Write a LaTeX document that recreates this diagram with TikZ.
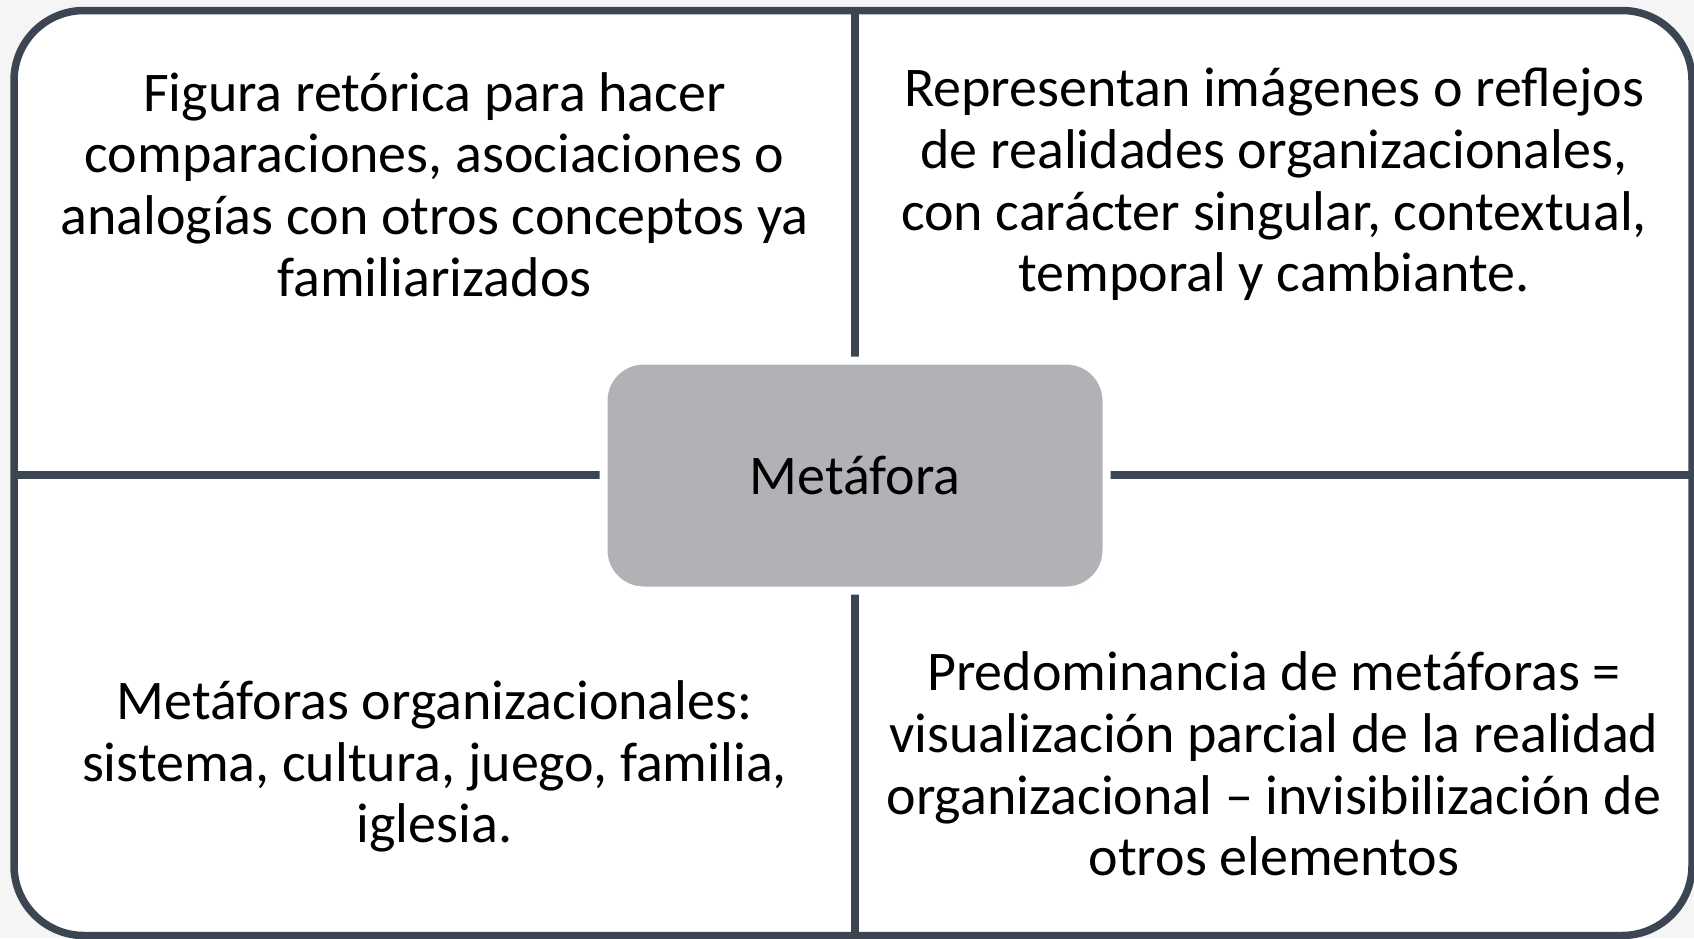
\documentclass[tikz,border=0pt]{standalone}
\usepackage{fontspec}
\setmainfont{Carlito}
\usetikzlibrary{shadows,calc}
\definecolor{linecol}{HTML}{3C4652}
\definecolor{boxgray}{HTML}{B1B2B6}
\definecolor{bgcol}{HTML}{F5F5F5}
\tikzset{
  frame/.style={draw=linecol, line width=7.5pt, fill=white, rounded corners=70pt,
    minimum width=1678pt, minimum height=925pt, inner sep=0pt, outer sep=0pt,
    drop shadow={opacity=0.12, shadow xshift=2pt, shadow yshift=-3pt}},
  divider/.style={draw=linecol, line width=7.5pt},
  centerbox/.style={draw=white, line width=8pt, fill=boxgray, rounded corners=40pt,
    minimum width=503pt, minimum height=230pt, inner sep=0pt, outer sep=0pt,
    drop shadow={opacity=0.25, shadow xshift=1.5pt, shadow yshift=-3pt}},
  quadtext/.style={align=center, inner sep=0pt, text=black,
    font=\fontsize{56pt}{61.6pt}\selectfont}
}
\begin{document}
\begin{tikzpicture}[x=1pt, y=-1pt]
\useasboundingbox (0,0) rectangle (1694,938);
\fill[bgcol] (0,0) rectangle (1694,938);
\node[frame] (frame) at (853,473) {};
\coordinate (cc) at (855,475);
\draw[divider] (cc |- frame.north) -- (cc |- frame.south);
\draw[divider] (cc -| frame.west) -- (cc -| frame.east);
\node[centerbox, font=\fontsize{56pt}{61.6pt}\selectfont] (center) at (855,475.5) {Metáfora};
\node[quadtext] (q1) at (434.5,184.5) {Figura retórica para hacer\\comparaciones, asociaciones o\\analogías con otros conceptos ya\\familiarizados};
\node[quadtext] (q2) at (1274,184.5) {Representan imágenes o reflejos\\de realidades organizacionales,\\con carácter singular, contextual,\\temporal y cambiante.};
\node[quadtext] (q3) at (434.5,766.5) {Metáforas organizacionales:\\sistema, cultura, juego, familia,\\iglesia.};
\node[quadtext] (q4) at (1274,764) {Predominancia de metáforas =\\visualización parcial de la realidad\\organizacional – invisibilización de\\otros elementos};
\end{tikzpicture}
\end{document}
